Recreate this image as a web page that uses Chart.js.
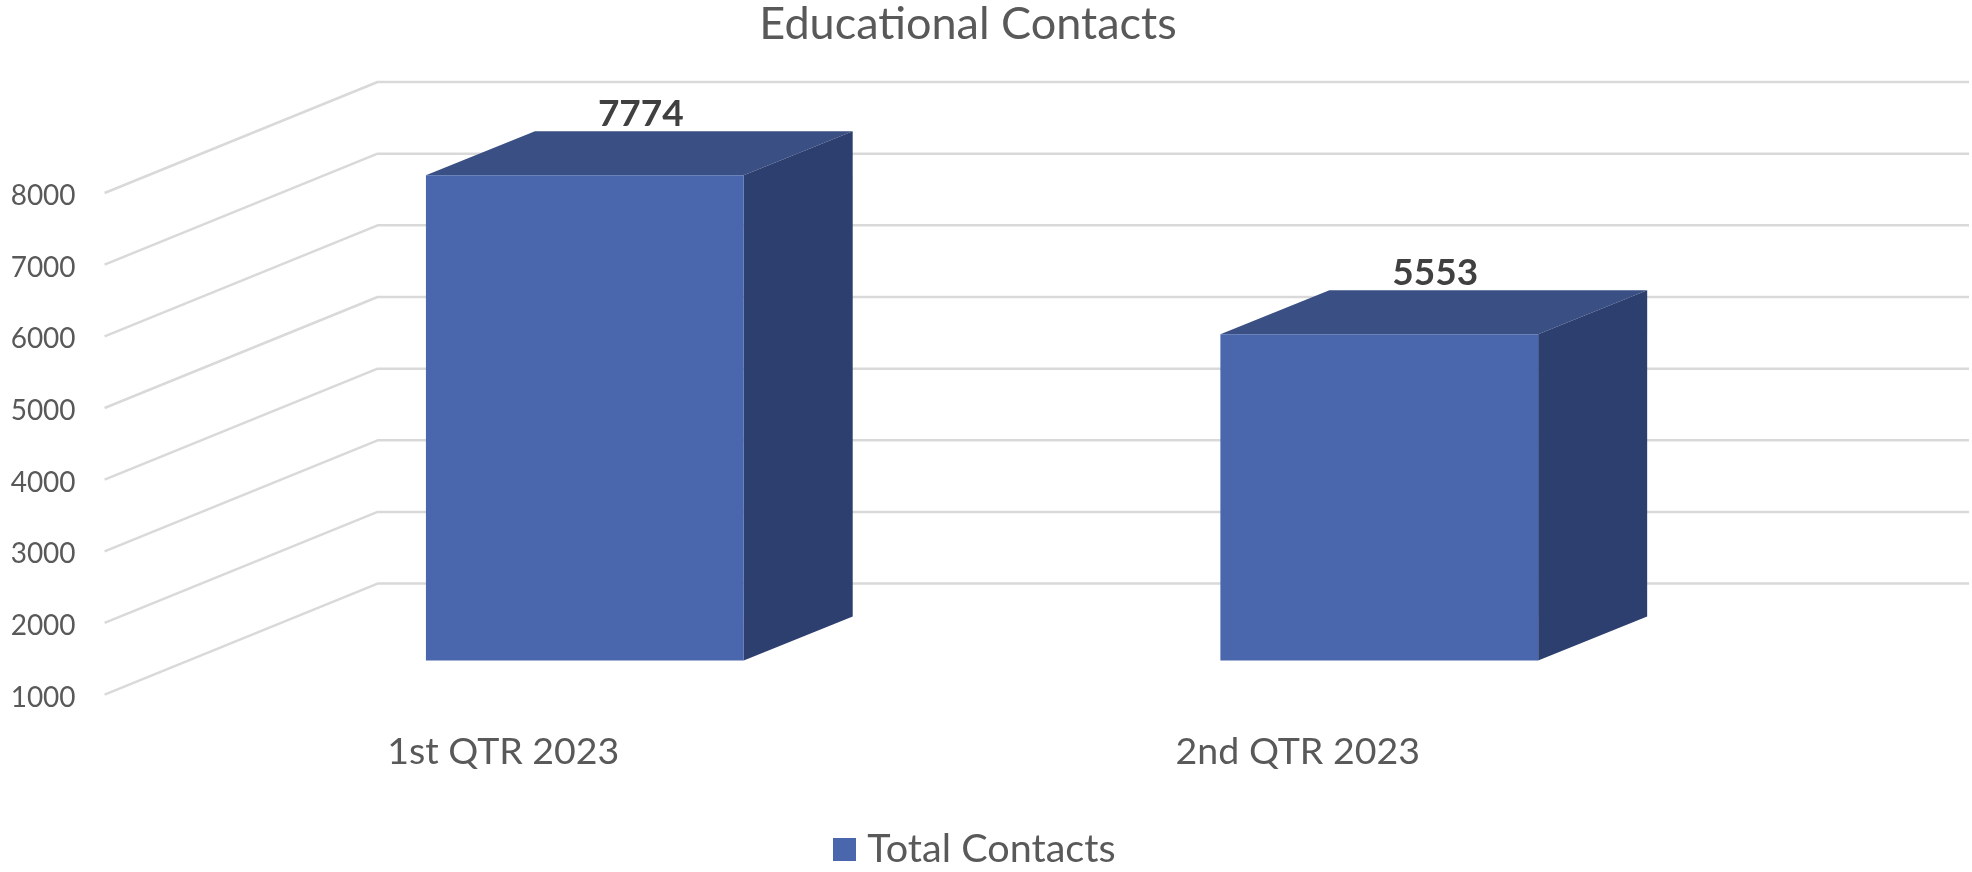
<!DOCTYPE html>
<html>
<head>
<meta charset="utf-8">
<style>html,body{margin:0;padding:0;background:#fff}canvas{display:block}</style>
<script src="https://cdn.jsdelivr.net/npm/chart.js@4"></script>
</head>
<body>
<canvas id="c" width="1972" height="872"></canvas>
<script>
const categories = ['1st QTR 2023', '2nd QTR 2023'];
const totalContacts = [7774, 5553];
const yMin = 1000;
const yMax = 8000;
const yStep = 1000;
const seriesName = 'Total Contacts';
const chartTitle = 'Educational Contacts';

const FONT = 'Lato, Carlito, "Open Sans", sans-serif';
const WALL = { dx: 273, dy: 111 };
const BAR_SHIFT = { dx: 83, dy: 34 };
const BAR_DEPTH = { dx: 109, dy: 44 };
const COLORS = { front: '#4a67ae', top: '#3a4f83', side: '#2d3f6e', grid: '#d9d9d9', text: '#595959', label: '#404040' };

const legendSwatch = document.createElement('canvas');
legendSwatch.width = 23;
legendSwatch.height = 23;
(function () {
  const g = legendSwatch.getContext('2d');
  g.fillStyle = COLORS.front;
  g.fillRect(0, 0, 23, 23);
})();

function poly(ctx, pts, fill) {
  ctx.beginPath();
  pts.forEach((p, i) => i ? ctx.lineTo(p[0], p[1]) : ctx.moveTo(p[0], p[1]));
  ctx.closePath();
  ctx.fillStyle = fill;
  ctx.fill();
}

const threeD = {
  id: 'threeD',
  afterLayout(chart) {
    chart.legend.left += 11;
    chart.legend.right += 11;
  },
  beforeDatasetsDraw(chart) {
    const { ctx, chartArea, scales } = chart;
    ctx.save();
    ctx.strokeStyle = COLORS.grid;
    ctx.lineWidth = 2.5;
    ctx.lineJoin = 'round';
    scales.y.ticks.forEach(t => {
      const y = scales.y.getPixelForValue(t.value);
      ctx.beginPath();
      ctx.moveTo(chartArea.left, y);
      ctx.lineTo(chartArea.left + WALL.dx, y - WALL.dy);
      ctx.lineTo(chart.width - 3, y - WALL.dy);
      ctx.stroke();
    });
    ctx.restore();
  },
  beforeDatasetDraw(chart, args) {
    const { ctx } = chart;
    ctx.save();
    ctx.translate(BAR_SHIFT.dx, -BAR_SHIFT.dy);
    args.meta.data.forEach(bar => {
      const x0 = bar.x - bar.width / 2, x1 = bar.x + bar.width / 2;
      const yt = bar.y, yb = bar.base;
      const d = BAR_DEPTH;
      poly(ctx, [[x0, yt], [x0 + d.dx, yt - d.dy], [x1 + d.dx, yt - d.dy], [x1, yt]], COLORS.top);
      poly(ctx, [[x1, yt], [x1 + d.dx, yt - d.dy], [x1 + d.dx, yb - d.dy], [x1, yb]], COLORS.side);
    });
  },
  afterDatasetDraw(chart, args) {
    const { ctx } = chart;
    args.meta.data.forEach((bar, i) => {
      ctx.fillStyle = COLORS.label;
      ctx.font = 'bold 37px ' + FONT;
      ctx.textAlign = 'center';
      ctx.textBaseline = 'middle';
      ctx.fillText(String(totalContacts[i]), bar.x + BAR_DEPTH.dx / 2 + 1.5, bar.y - BAR_DEPTH.dy - 17);
    });
    ctx.restore();
  }
};

new Chart(document.getElementById('c'), {
  type: 'bar',
  data: {
    labels: categories,
    datasets: [{
      label: seriesName,
      data: totalContacts,
      base: yMin,
      backgroundColor: COLORS.front,
      borderWidth: 0,
      barPercentage: 1,
      categoryPercentage: 0.4,
      clip: false
    }]
  },
  plugins: [threeD],
  options: {
    responsive: false,
    animation: false,
    layout: { padding: { left: 0, right: 36, top: 0, bottom: -7.5 } },
    plugins: {
      title: {
        display: true,
        text: chartTitle,
        color: COLORS.text,
        font: { family: FONT, size: 45, weight: 'normal' },
        padding: { top: -3, bottom: 142 }
      },
      legend: {
        position: 'bottom',
        labels: {
          color: COLORS.text,
          font: { family: FONT, size: 39.6 },
          boxWidth: 5,
          boxHeight: 23,
          usePointStyle: true,
          pointStyle: legendSwatch,
          pointStyleWidth: 5,
          padding: 14
        }
      },
      tooltip: { enabled: false }
    },
    scales: {
      x: {
        grid: { display: false, drawTicks: false },
        border: { display: false },
        ticks: { color: COLORS.text, font: { family: FONT, size: 37.5 }, padding: 35, maxRotation: 0, labelOffset: 1.5 },
        afterFit(s) { s.height = 121.3; }
      },
      y: {
        min: yMin,
        max: yMax,
        grid: { display: false, drawTicks: false },
        border: { display: false },
        ticks: {
          stepSize: yStep,
          color: COLORS.text,
          font: { family: FONT, size: 28 },
          padding: 29,
          autoSkip: false,
          labelOffset: 3,
          callback: v => String(v)
        },
        afterFit(s) { s.width = 104.6; }
      },
      rightGap: {
        type: 'linear',
        position: 'right',
        display: true,
        grid: { display: false, drawTicks: false },
        border: { display: false },
        ticks: { display: false },
        afterFit(s) { s.width = 242.5; }
      }
    }
  }
});
</script>
</body>
</html>
